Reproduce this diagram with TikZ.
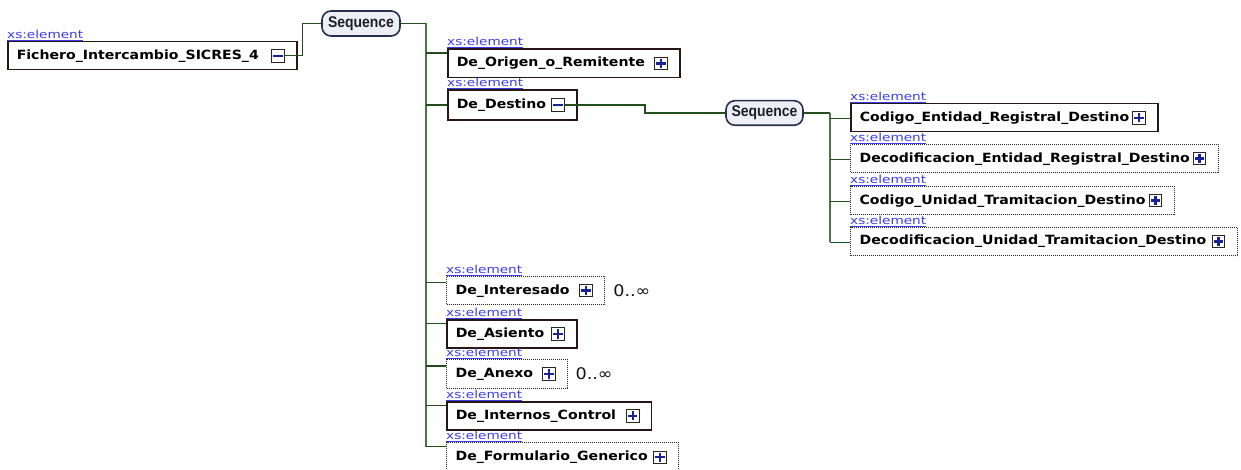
\documentclass[tikz,border=0pt]{standalone}
\usepackage{fontspec}
\newfontfamily\lblfont[FakeStretch=1.24]{DejaVu Sans}
\newfontfamily\bxfont[FakeStretch=1.11]{DejaVu Sans Bold}
\newfontfamily\seqfont[FakeStretch=0.9]{Liberation Sans Bold}
\newfontfamily\occfont[FakeStretch=1.1]{DejaVu Sans}
\definecolor{lblblue}{RGB}{60,60,235}
\definecolor{boxc}{RGB}{40,22,22}
\definecolor{dotc}{RGB}{40,40,40}
\definecolor{busc}{RGB}{75,115,70}
\definecolor{connc}{RGB}{35,78,30}
\definecolor{seqfill}{RGB}{238,238,245}
\definecolor{seqdraw}{RGB}{40,48,80}
\definecolor{iconblue}{RGB}{25,35,150}
\newcommand\xsel{\underline{xs:element}}
\begin{document}
\begin{tikzpicture}[x=1pt,y=-1pt,
  elem/.style={draw=boxc, line width=1.5pt, fill=white, anchor=north west,
    inner xsep=9pt, inner ysep=0pt, text height=9.5pt, text depth=2.4pt,
    font=\bxfont\fontsize{12.7}{14}\selectfont, text=black},
  optelem/.style={elem, draw=dotc, line width=1.1pt, dash pattern=on 1pt off 1pt},
  lbl/.style={anchor=base west, inner sep=0pt, text=lblblue,
    font=\lblfont\fontsize{11}{11}\selectfont},
  seqnode/.style={draw=seqdraw, line width=1.6pt, fill=seqfill, rounded corners=9pt,
    inner sep=0pt, font=\seqfont\fontsize{15.5}{16}\selectfont, text={rgb,255:red,30;green,30;blue,40}},
  icon/.style={draw=black!85, fill=white, line width=0.9pt, minimum size=12.5pt, inner sep=0pt},
  plusicon/.style={icon, path picture={
      \draw[iconblue, line width=2.3pt]
        ([xshift=1.6pt]path picture bounding box.west) -- ([xshift=-1.6pt]path picture bounding box.east)
        ([yshift=-1.6pt]path picture bounding box.north) -- ([yshift=1.6pt]path picture bounding box.south);}},
  minusicon/.style={icon, path picture={
      \draw[iconblue, line width=2.3pt]
        ([xshift=1.6pt]path picture bounding box.west) -- ([xshift=-1.6pt]path picture bounding box.east);}},
  occ/.style={anchor=west, inner sep=0pt, font=\occfont\fontsize{16}{16}\selectfont, text={rgb,255:red,20;green,20;blue,20}},
  bus/.style={draw=busc, line width=1.4pt},
  conn/.style={draw=connc, line width=1.3pt}
]
\useasboundingbox (0,0) rectangle (1241,470);

% ---------- root ----------
\node[elem, minimum height=28pt, text width=271pt] (root) at (7,41) {\mbox{Fichero\_Intercambio\_SICRES\_4}};
\node[lbl] (lroot) at ([yshift=2.7pt]root.north west) {\xsel};
\node[minusicon] (rooticon) at ([xshift=-19.4pt]root.east) {};

\node[seqnode, minimum width=78pt, minimum height=25pt] (seq1) at (361,23.5) {Sequence};

% ---------- children of first sequence ----------
\node[elem, minimum height=28.7pt, text width=214pt] (b1) at (447,48.3) {\mbox{De\_Origen\_o\_Remitente}};
\node[elem, minimum height=30pt, text width=111pt] (b2) at (447,89.3) {\mbox{De\_Destino}};
\node[optelem, minimum height=28.6pt, text width=140.3pt] (b3) at (446,275.7) {\mbox{De\_Interesado}};
\node[elem, minimum height=28.3pt, text width=112pt] (b4) at (446,319) {\mbox{De\_Asiento}};
\node[optelem, minimum height=28.4pt, text width=103.3pt] (b5) at (446,359.3) {\mbox{De\_Anexo}};
\node[elem, minimum height=28pt, text width=186.7pt] (b6) at (446,401) {\mbox{De\_Internos\_Control}};
\node[optelem, minimum height=30pt, text width=214.3pt] (b7) at (446,441.7) {\mbox{De\_Formulario\_Generico}};

\foreach \b in {b1,b2,b3,b4,b5,b6,b7}{
  \node[lbl] (l\b) at ([yshift=2.5pt]\b.north west) {\xsel};
}
\foreach \b in {b1,b3,b4,b5,b6,b7}{
  \node[plusicon] (i\b) at ([xshift=-19.5pt]\b.east) {};
}
\node[minusicon] (ib2) at ([xshift=-19.5pt]b2.east) {};

\node[occ] (o3) at ([xshift=7.7pt]b3.east) {0..∞};
\node[occ] (o5) at ([xshift=7pt]b5.east) {0..∞};

% ---------- second sequence ----------
\node[seqnode, minimum width=77pt, minimum height=24.6pt] (seq2) at (764.5,113) {Sequence};

\node[elem, minimum height=28pt, text width=289pt] (s1) at (850,103) {\mbox{Codigo\_Entidad\_Registral\_Destino}};
\node[optelem, minimum height=28pt, text width=350pt] (s2) at (850,144) {\mbox{Decodificacion\_Entidad\_Registral\_Destino}};
\node[optelem, minimum height=28.6pt, text width=306pt] (s3) at (850,185.7) {\mbox{Codigo\_Unidad\_Tramitacion\_Destino}};
\node[optelem, minimum height=28.3pt, text width=369pt] (s4) at (850,226.7) {\mbox{Decodificacion\_Unidad\_Tramitacion\_Destino}};
\foreach \s in {s1,s2,s3,s4}{
  \node[lbl] (l\s) at ([yshift=2.5pt]\s.north west) {\xsel};
  \node[plusicon] (i\s) at ([xshift=-19.5pt]\s.east) {};
}

% ---------- connectors ----------
\draw[conn] (rooticon.east) -| ([xshift=-18.4pt]seq1.west) -- (seq1.west);

\coordinate (bustop) at ([xshift=25.3pt]seq1.east);
\coordinate (c1) at ([yshift=-5pt]b1.north west);
\coordinate (c2) at (b2.west);
\coordinate (c3) at ([yshift=-7pt]b3.north west);
\coordinate (c4) at ([yshift=-4.3pt]b4.north west);
\coordinate (c5) at ([yshift=-6.7pt]b5.north west);
\coordinate (c6) at ([yshift=-4.7pt]b6.north west);
\coordinate (c7) at ([yshift=-5pt]b7.north west);
\draw[conn] (seq1.east) -- (bustop);
\draw[bus] (bustop) -- (bustop |- c7);
\draw[conn, line width=2pt] (bustop |- c1) -- (c1);
\foreach \c in {c2,c3,c4,c5,c6,c7}{
  \draw[conn] (bustop |- \c) -- (\c);
}

\draw[conn, line width=1.5pt] (ib2.east) -| ([xshift=-80pt]seq2.west) -- (seq2.west);

\coordinate (bus2top) at ([xshift=26pt]seq2.east);
\draw[conn, line width=1.5pt] (seq2.east) -- (bus2top);
\coordinate (d1) at ([yshift=-0.7pt]s1.west);
\coordinate (d2) at ([yshift=-1pt]s2.west);
\coordinate (d3) at ([yshift=-0.7pt]s3.west);
\coordinate (d4) at ([yshift=-0.8pt]s4.west);
\draw[bus] (bus2top) -- (bus2top |- d4);
\foreach \d in {d1,d2,d3,d4}{
  \draw[conn] (bus2top |- \d) -- (\d);
}
\end{tikzpicture}
\end{document}
